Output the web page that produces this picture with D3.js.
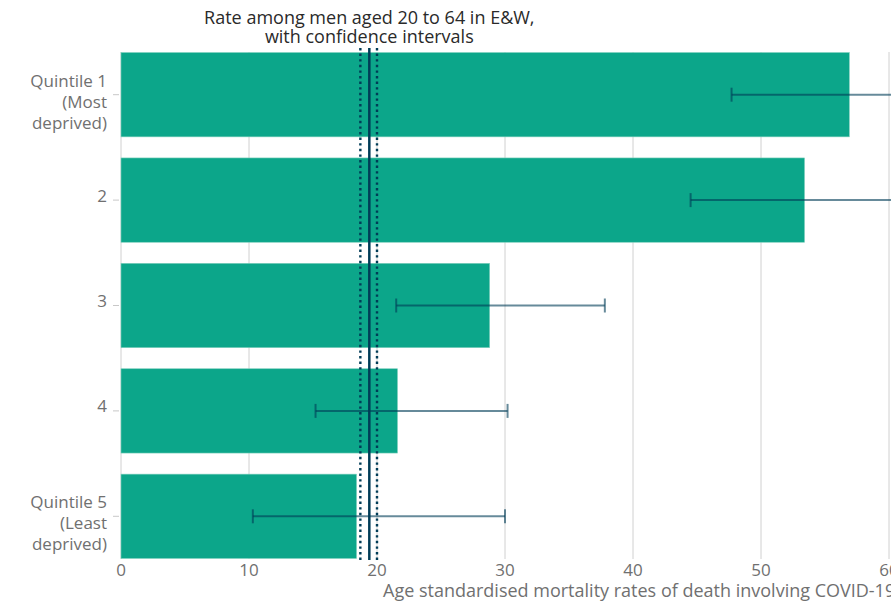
<!DOCTYPE html>
<html>
<head>
<meta charset="utf-8">
<script src="https://cdn.jsdelivr.net/npm/d3@7"></script>
<style>
  body { margin: 0; background: #fff; overflow: hidden; }
  svg { font-family: "Open Sans", sans-serif; display: block; }
</style>
</head>
<body>
<div id="chart"></div>
<script>
const categories = ["Q1", "Q2", "Q3", "Q4", "Q5"];
const categoryLabels = [
    ["Quintile 1", "(Most", "deprived)"],
    ["2"],
    ["3"],
    ["4"],
    ["Quintile 5", "(Least", "deprived)"]
];
const rates = [56.9, 53.4, 28.8, 21.6, 18.4];
const lowerCI = [47.7, 44.5, 21.5, 15.2, 10.3];
const upperCI = [68.0, 64.5, 37.8, 30.2, 30.0];
const xTicks = [0, 10, 20, 30, 40, 50, 60];
const overallRate = 19.4;
const overallLower = 18.7;
const overallUpper = 20.0;

const width = 891, height = 602;

const svg = d3.select("#chart")
    .append("svg")
    .attr("width", width)
    .attr("height", height);

const x = d3.scaleLinear()
    .domain([0, 60])
    .range([121, 889]);

const y = d3.scaleBand()
    .domain(categories)
    .range([42, 569])
    .paddingInner(0.2)
    .paddingOuter(0.1);

const plotTop = 52, plotBottom = 559;

// gridlines
svg.append("g")
    .selectAll("line")
    .data(xTicks)
    .enter().append("line")
    .attr("x1", d => x(d))
    .attr("x2", d => x(d))
    .attr("y1", plotTop)
    .attr("y2", plotBottom)
    .attr("stroke", "#d0d0d0")
    .attr("stroke-width", 1);

// x tick labels
svg.append("g")
    .selectAll("text")
    .data(xTicks)
    .enter().append("text")
    .attr("x", d => x(d))
    .attr("y", 576)
    .attr("text-anchor", "middle")
    .style("font-size", "17px")
    .style("fill", "#707070")
    .text(d => d);

svg.append("text")
    .attr("x", 383)
    .attr("y", 597)
    .style("font-size", "18px")
    .style("fill", "#707070")
    .text("Age standardised mortality rates of death involving COVID-19 per 100,000 population");

const data = categories.map((c, i) => ({
    key: c, lines: categoryLabels[i], value: rates[i], lo: lowerCI[i], hi: upperCI[i]
}));

// bars
svg.append("g")
    .selectAll("rect")
    .data(data)
    .enter().append("rect")
    .attr("x", x(0))
    .attr("y", d => y(d.key))
    .attr("width", d => x(d.value) - x(0))
    .attr("height", y.bandwidth())
    .attr("fill", "#0ca68a")
    .attr("stroke", "#7fcfbd")
    .attr("stroke-width", 0.6);

// y ticks and labels
const yl = svg.append("g");
data.forEach(d => {
    const cy = y(d.key) + y.bandwidth() / 2;
    yl.append("line")
        .attr("x1", 113).attr("x2", 119)
        .attr("y1", cy).attr("y2", cy)
        .attr("stroke", "#c8c8c8");
    const n = d.lines.length;
    const t = yl.append("text")
        .attr("text-anchor", "end")
        .style("font-size", "17px")
        .style("fill", "#707070");
    d.lines.forEach((line, j) => {
        t.append("tspan")
            .attr("x", 107)
            .attr("y", n === 1 ? cy + 1.5 : cy - 8 + j * 21)
            .text(line);
    });
});

// overall reference lines
const ref = svg.append("g");
[overallLower, overallUpper].forEach(v => {
    ref.append("line")
        .attr("x1", x(v)).attr("x2", x(v))
        .attr("y1", 48).attr("y2", 560)
        .attr("stroke", "#003c57")
        .attr("stroke-width", 2.4)
        .attr("stroke-dasharray", "2.4,3.2");
});
ref.append("line")
    .attr("x1", x(overallRate)).attr("x2", x(overallRate))
    .attr("y1", 48).attr("y2", 560)
    .attr("stroke", "#003c57")
    .attr("stroke-width", 2.5);

// error bars
const err = svg.append("g")
    .attr("stroke", "#003c57")
    .attr("stroke-opacity", 0.6)
    .attr("stroke-width", 2);
data.forEach(d => {
    const cy = y(d.key) + y.bandwidth() / 2;
    err.append("line")
        .attr("x1", x(d.lo)).attr("x2", x(d.hi))
        .attr("y1", cy).attr("y2", cy);
    [d.lo, d.hi].forEach(v => {
        err.append("line")
            .attr("x1", x(v)).attr("x2", x(v))
            .attr("y1", cy - 7).attr("y2", cy + 7);
    });
});

// annotation
const title = svg.append("text")
    .attr("text-anchor", "middle")
    .style("font-size", "18px")
    .style("fill", "#2a2a2a");
["Rate among men aged 20 to 64 in E&W,", "with confidence intervals"].forEach((line, i) => {
    title.append("tspan")
        .attr("x", x(overallRate))
        .attr("y", 24 + i * 19)
        .text(line);
});
</script>
</body>
</html>
